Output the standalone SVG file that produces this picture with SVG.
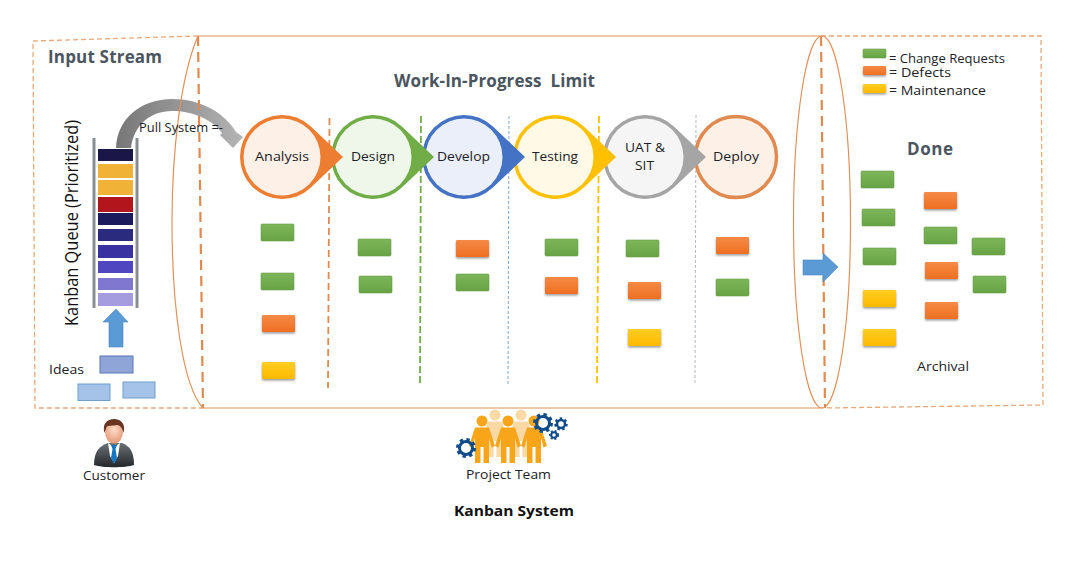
<svg xmlns="http://www.w3.org/2000/svg" width="1080" height="562" viewBox="0 0 1080 562">
<style>
text{font-family:"Open Sans","Noto Sans","Liberation Sans",sans-serif;fill:#1c2226;font-size:13.5px}
.h{font-weight:700;font-size:17px;fill:#4b5560}
.b{font-weight:700;fill:#111;font-size:15px}
.g{fill:url(#gg);stroke:#6a9f4c;stroke-width:.6}
.o{fill:url(#go);filter:url(#sh)}
.y{fill:url(#gy);filter:url(#sh)}
.thin{fill:none;stroke:#e9a877;stroke-width:1.3;stroke-dasharray:5 3}
.thick{fill:none;stroke:#e08a4f;stroke-width:2.2;stroke-dasharray:10 6}
.edge{fill:none;stroke:#e0915a;stroke-width:1.2}
.blue{fill:#5b9bd5;stroke:#4a86bd;stroke-width:.6}
.gear{fill:none;stroke:#0f4c8a}
.p{fill:#f9a51a}
.pb{fill:#fbd9a5}
</style>
<defs>
<linearGradient id="gg" x1="0" y1="0" x2="0" y2="1"><stop offset="0" stop-color="#7db65a"/><stop offset="1" stop-color="#67a345"/></linearGradient>
<linearGradient id="go" x1="0" y1="0" x2="0" y2="1"><stop offset="0" stop-color="#f68a45"/><stop offset="1" stop-color="#ee6f22"/></linearGradient>
<linearGradient id="gy" x1="0" y1="0" x2="0" y2="1"><stop offset="0" stop-color="#ffcd22"/><stop offset="1" stop-color="#fdb900"/></linearGradient>
<linearGradient id="gc" gradientUnits="userSpaceOnUse" x1="116" y1="130" x2="243" y2="130"><stop offset="0" stop-color="#777"/><stop offset="1" stop-color="#b4b4b4"/></linearGradient>
<linearGradient id="gs" x1="0" y1="0" x2="0" y2="1"><stop offset="0" stop-color="#6b7176"/><stop offset="1" stop-color="#23272b"/></linearGradient>
<radialGradient id="gf" cx=".5" cy=".4" r=".6"><stop offset="0" stop-color="#ffdcc8"/><stop offset="1" stop-color="#e39a78"/></radialGradient>
<filter id="sh" x="-20%" y="-30%" width="140%" height="170%"><feDropShadow dx="0" dy="1.5" stdDeviation="1.2" flood-color="#000" flood-opacity=".4"/></filter>
<rect id="card" width="33" height="17" rx="1"/>
<path id="drop" fill="currentColor" d="M61 0L28.9-30.5A42 42 0 1 0 28.9 30.5Z"/>
<g id="person"><circle cy="0" r="5.5"/><path d="M-7 6.5H7L13 25L9.5 26.500L7 17V42H1.500V26H-1.500V42H-7V17L-9.500 26.500L-13 25Z"/></g>
</defs>

<g id="connectors">
<path id="pull" fill="url(#gc)" d="M116 148C117 118 142 99 172 99C200 99 224 112 236 132L243 137L233 148L220 135L222 133C212 119 192 111 172 111C150 111 134 125 131 148Z"/>
<path class="thick" d="M198 36L203 408"/>
<path class="thick" d="M821 36L825 408"/>
<path fill="none" stroke="#e08a4f" stroke-width="1.800" stroke-dasharray="7 4" d="M329.500 118L328 388"/>
<path fill="none" stroke="#70ad47" stroke-width="1.800" stroke-dasharray="7 3" d="M421 116L420 386"/>
<path fill="none" stroke="#7fa8cc" stroke-width="1" stroke-dasharray="3 2" d="M509 116L508 386"/>
<path fill="none" stroke="#ffc000" stroke-width="1.800" stroke-dasharray="7 3" d="M599 116L597 386"/>
<path fill="none" stroke="#b5b9bd" stroke-width="1" stroke-dasharray="3 2" d="M696 115L695 384"/>
<path id="up" class="blue" d="M116 309L128 322H123V347H109V322H103Z"/>
<path id="right" class="blue" d="M803 260H823V253L838 267L823 282V275H803Z"/>
</g>

<g id="containers">
<path class="thin" d="M198 36L33 41L35 408H203"/>
<path class="thin" d="M821 36H1041L1043 405L825 408"/>
<path class="edge" d="M198 36H821M203 408H823"/>
<path class="edge" d="M198 36C181 75 172 150 172 222C172 305 182 385 203 408"/>
<ellipse class="edge" cx="822" cy="222" rx="28.500" ry="186"/>
</g>

<g id="input-stream">
<text class="h" x="48" y="63" textLength="114">Input Stream</text>
<text x="78" y="326" transform="rotate(-90 78 326)" style="font-size:17.5px;fill:#111" textLength="206" lengthAdjust="spacingAndGlyphs">Kanban Queue (Prioritized)</text>
<text x="139" y="132" textLength="84" lengthAdjust="spacingAndGlyphs">Pull System =-</text>
<text x="49" y="374" textLength="35" lengthAdjust="spacingAndGlyphs">Ideas</text>
</g>

<g id="queue">
<path d="M94 138V308M137 138V308" stroke="#8a8d90" stroke-width="3" fill="none"/>
<rect x="98" y="149" width="35" height="12" fill="#1a1648"/>
<rect x="98" y="164" width="35" height="14" fill="#f0b237"/>
<rect x="98" y="180" width="35" height="15" fill="#f0b237"/>
<rect x="98" y="197" width="35" height="15" fill="#b3151d"/>
<rect x="98" y="213" width="35" height="12" fill="#1b1a5c"/>
<rect x="98" y="229" width="35" height="12" fill="#2a2a7e"/>
<rect x="98" y="245" width="35" height="13" fill="#3833a0"/>
<rect x="98" y="261" width="35" height="12" fill="#5046c0"/>
<rect x="98" y="278" width="35" height="12" fill="#8078d0"/>
<rect x="98" y="293" width="35" height="13" fill="#a59bdf"/>
</g>

<g id="ideas">
<rect x="100" y="356" width="33" height="17" fill="#8fa5d8" stroke="#5677b5"/>
<rect x="78" y="384" width="32" height="16.500" fill="#a5c3e8" stroke="#6d9fd0"/>
<rect x="123" y="382" width="32" height="16" fill="#a5c3e8" stroke="#6d9fd0"/>
</g>

<g id="customer">
<path fill="url(#gs)" d="M94 465C94 452 99 446 108 443H122C130 446 134 452 134 465C125 468 103 468 94 465Z"/>
<path fill="#fff" d="M108 443L114 447L120 443L118 456L114 463L110 456Z"/>
<path fill="#1577c4" d="M111 445H117L115.500 449L117 458L114 464L111 458L112.500 449Z"/>
<ellipse cx="114" cy="432" rx="9" ry="11.500" fill="url(#gf)"/>
<path fill="#6a3622" d="M104.500 433C102 424 107 419 114 419C121 419 126 424 123.500 433C122.500 428 120 425 117 425C113 426 108 425 106.500 427Z"/>
<text x="83" y="480" textLength="62" lengthAdjust="spacingAndGlyphs">Customer</text>
</g>

<g id="team">
<g class="pb"><use href="#person" x="495" y="415"/><use href="#person" x="521" y="415"/></g>
<g class="p"><use href="#person" x="482" y="421"/><use href="#person" x="508" y="421"/><use href="#person" x="534" y="421"/></g>
<g class="gear">
<circle cx="466" cy="448" r="6.500" stroke-width="3"/><circle cx="466" cy="448" r="8.500" stroke-width="3" stroke-dasharray="3.300 3.400"/>
<circle cx="543" cy="423" r="6.500" stroke-width="3"/><circle cx="543" cy="423" r="8.500" stroke-width="3" stroke-dasharray="3.300 3.400"/>
<circle cx="561" cy="424" r="4" stroke-width="2.500"/><circle cx="561" cy="424" r="5.500" stroke-width="2.500" stroke-dasharray="2.400 2.400"/>
<circle cx="554" cy="435" r="2.800" stroke-width="2"/><circle cx="554" cy="435" r="4" stroke-width="2" stroke-dasharray="1.900 1.900"/>
</g>
<text x="466" y="479" textLength="85" lengthAdjust="spacingAndGlyphs">Project Team</text>
</g>

<g id="deploy"><circle cx="736" cy="157" r="40.500" fill="#fdf0e7" stroke="#e08a4f" stroke-width="3.500"/><text x="713" y="161" textLength="46" lengthAdjust="spacingAndGlyphs">Deploy</text></g>
<g id="uat-sit"><use href="#drop" x="645" y="157" color="#a5a5a5"/><circle cx="645" cy="157" r="38.500" fill="#f5f5f5"/><text x="625" y="152" textLength="40" lengthAdjust="spacingAndGlyphs">UAT &amp;</text><text x="635" y="170" textLength="19" lengthAdjust="spacingAndGlyphs">SIT</text></g>
<g id="testing"><use href="#drop" x="555" y="157" color="#ffc000"/><circle cx="555" cy="157" r="38.500" fill="#fff9e5"/><text x="532" y="161" textLength="46" lengthAdjust="spacingAndGlyphs">Testing</text></g>
<g id="develop"><use href="#drop" x="464" y="157" color="#4472c4"/><circle cx="464" cy="157" r="38.500" fill="#ebeff9"/><text x="437" y="161" textLength="53" lengthAdjust="spacingAndGlyphs">Develop</text></g>
<g id="design"><use href="#drop" x="373" y="157" color="#70ad47"/><circle cx="373" cy="157" r="38.500" fill="#eff7ea"/><text x="351" y="161" textLength="44" lengthAdjust="spacingAndGlyphs">Design</text></g>
<g id="analysis"><use href="#drop" x="282" y="157" color="#ed7d31"/><circle cx="282" cy="157" r="38.500" fill="#fdf0e7"/><text x="255" y="161" textLength="54" lengthAdjust="spacingAndGlyphs">Analysis</text></g>

<g id="wip-cards">
<use href="#card" class="g" x="261" y="224"/><use href="#card" class="g" x="261" y="273"/><use href="#card" class="o" x="262" y="315"/><use href="#card" class="y" x="262" y="362"/>
<use href="#card" class="g" x="358" y="239"/><use href="#card" class="g" x="359" y="276"/>
<use href="#card" class="o" x="456" y="240"/><use href="#card" class="g" x="456" y="274"/>
<use href="#card" class="g" x="545" y="239"/><use href="#card" class="o" x="545" y="277"/>
<use href="#card" class="g" x="626" y="240"/><use href="#card" class="o" x="628" y="282"/><use href="#card" class="y" x="628" y="329"/>
<use href="#card" class="o" x="716" y="237"/><use href="#card" class="g" x="716" y="279"/>
</g>

<g id="done-cards">
<use href="#card" class="g" x="861" y="171"/><use href="#card" class="g" x="862" y="209"/><use href="#card" class="g" x="863" y="248"/><use href="#card" class="y" x="863" y="290"/><use href="#card" class="y" x="863" y="329"/>
<use href="#card" class="o" x="924" y="192"/><use href="#card" class="g" x="924" y="227"/><use href="#card" class="o" x="925" y="262"/><use href="#card" class="o" x="925" y="302"/>
<use href="#card" class="g" x="972" y="238"/><use href="#card" class="g" x="973" y="276"/>
</g>

<g id="legend">
<rect class="g" x="863" y="49" width="23" height="9" rx="1"/>
<rect class="o" x="863" y="66" width="23" height="9" rx="1"/>
<rect class="y" x="863" y="84" width="23" height="9" rx="1"/>
<text x="889" y="63" textLength="116" lengthAdjust="spacingAndGlyphs">= Change Requests</text>
<text x="889" y="77" textLength="62" lengthAdjust="spacingAndGlyphs">= Defects</text>
<text x="889" y="95" textLength="97" lengthAdjust="spacingAndGlyphs">= Maintenance</text>
</g>

<g id="titles">
<text class="h" x="394" y="87" textLength="201" xml:space="preserve">Work-In-Progress  Limit</text>
<text class="h" x="907" y="155" textLength="46">Done</text>
<text x="917" y="371" textLength="52" lengthAdjust="spacingAndGlyphs">Archival</text>
<text class="b" x="454" y="516" textLength="120" lengthAdjust="spacingAndGlyphs">Kanban System</text>
</g>
</svg>
